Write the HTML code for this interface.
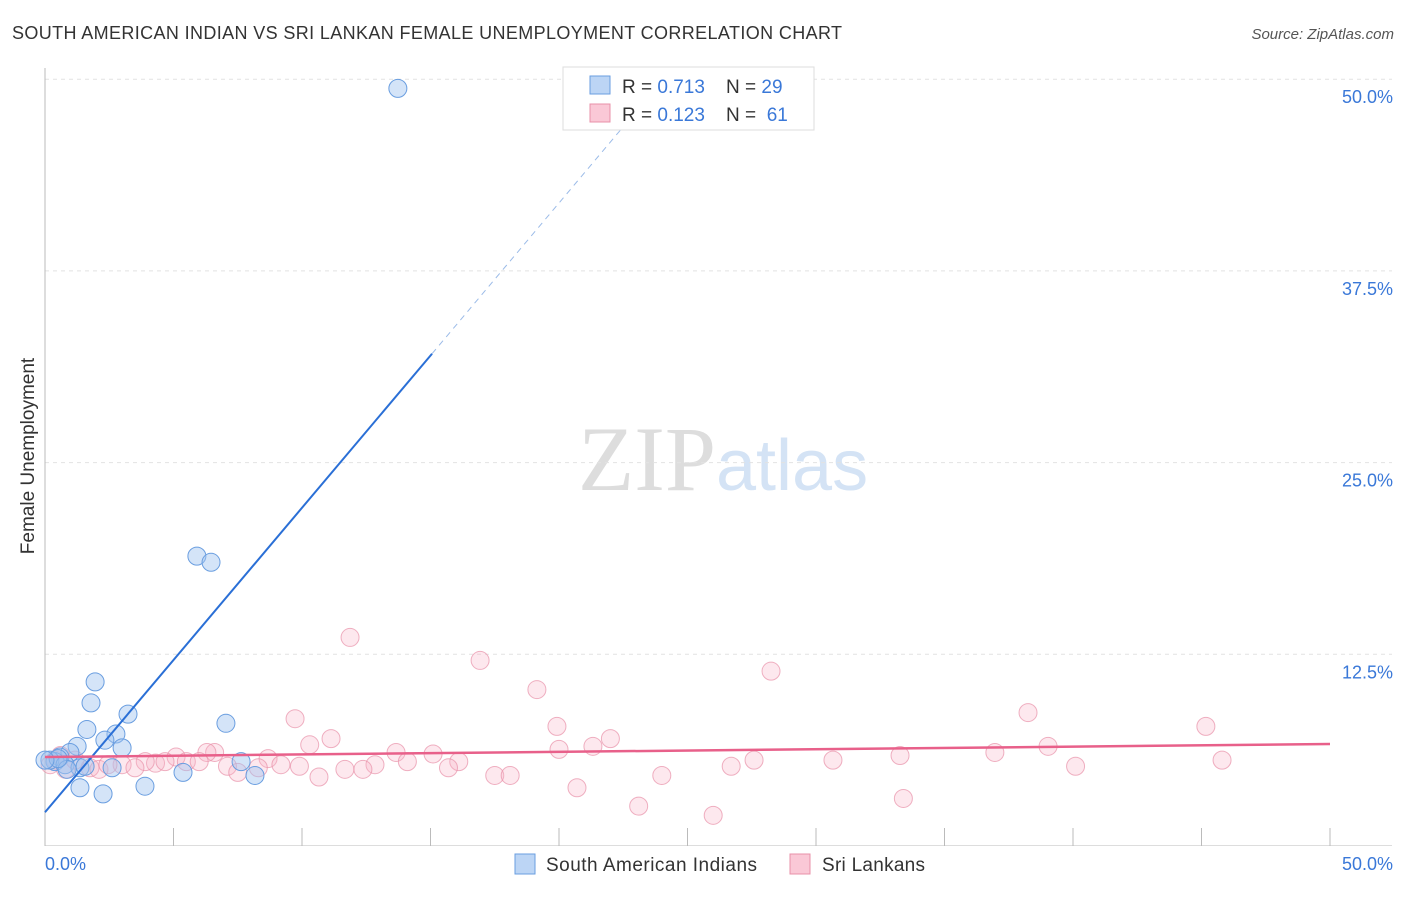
<!DOCTYPE html>
<html><head><meta charset="utf-8"><style>
body{margin:0;background:#fff;font-family:"Liberation Sans",sans-serif}
</style></head><body>
<svg width="1406" height="892" xmlns="http://www.w3.org/2000/svg">
<text x="12" y="39" font-size="18" fill="#333" textLength="830">SOUTH AMERICAN INDIAN VS SRI LANKAN FEMALE UNEMPLOYMENT CORRELATION CHART</text>
<text x="1394" y="39" font-size="15" fill="#555" font-style="italic" text-anchor="end">Source: ZipAtlas.com</text>
<text x="716" y="490" font-size="92" fill="#ddd" font-family="Liberation Serif,serif" text-anchor="end">ZIP</text>
<text x="716" y="490" font-size="72" fill="#d4e3f5">atlas</text>
<g id="grid"></g>
<g id="axes"></g>
<g id="marks"></g>
<text transform="translate(34,456) rotate(-90)" font-size="19" fill="#333" text-anchor="middle">Female Unemployment</text>
<g>
<rect x="563" y="67" width="251" height="63" fill="#fff" stroke="#ddd"/>
<rect x="590" y="76" width="20" height="18" fill="#bcd5f5" stroke="#6a9ee0"/>
<text x="622" y="93" font-size="19" fill="#333" xml:space="preserve">R = <tspan fill="#3a78d8">0.713</tspan>    N = <tspan fill="#3a78d8">29</tspan></text>
<rect x="590" y="104" width="20" height="18" fill="#fac8d6" stroke="#e890a8"/>
<text x="622" y="121" font-size="19" fill="#333" xml:space="preserve">R = <tspan fill="#3a78d8">0.123</tspan>    N =  <tspan fill="#3a78d8">61</tspan></text>
</g>
<g>
<rect x="515" y="854" width="20" height="20" fill="#bcd5f5" stroke="#6a9ee0"/>
<text x="546" y="871" font-size="19" fill="#333" textLength="211">South American Indians</text>
<rect x="790" y="854" width="20" height="20" fill="#fac8d6" stroke="#e890a8"/>
<text x="822" y="871" font-size="19" fill="#333" textLength="103">Sri Lankans</text>
</g>
</svg>
<script>
const yTicks=[12.5,25,37.5,50];
const yTickLabels=["12.5%","25.0%","37.5%","50.0%"];
const xTickLabels=["0.0%","50.0%"];
const blueX=[13.73,5.91,6.46,1.95,1.79,3.23,7.04,1.63,2.76,2.33,1.25,3.0,0.97,0.58,0.39,0.19,0.78,1.36,2.61,5.37,7.63,8.17,3.89,1.36,2.26,0.86,0.51,1.56,0.0];
const blueY=[49.4,18.9,18.5,10.7,9.33,8.6,8.0,7.6,7.3,6.9,6.5,6.4,6.1,5.8,5.5,5.6,5.3,5.1,5.1,4.8,5.5,4.6,3.9,3.8,3.4,5.0,5.7,5.2,5.6];
const pinkX=[11.87,16.93,19.14,28.25,38.25,45.17,9.73,19.92,22.0,11.13,10.3,39.03,21.32,20.0,13.66,15.1,36.96,33.27,30.66,27.59,45.8,16.1,14.1,8.68,9.18,6.6,6.3,5.1,5.5,6.0,4.3,3.9,4.67,3.0,3.5,7.1,7.5,8.3,9.9,12.84,11.67,12.37,15.7,40.1,26.7,17.5,18.1,10.66,24.0,20.7,23.1,26.0,33.4,0.4,0.2,0.8,1.75,2.1,2.45,0.6,1.17];
const pinkY=[13.6,12.1,10.2,11.4,8.7,7.8,8.3,7.8,7.0,7.0,6.6,6.5,6.5,6.3,6.1,6.0,6.1,5.9,5.6,5.6,5.6,5.5,5.5,5.7,5.3,6.1,6.1,5.8,5.5,5.5,5.4,5.5,5.5,5.3,5.1,5.2,4.8,5.1,5.2,5.3,5.0,5.0,5.1,5.2,5.2,4.6,4.6,4.5,4.6,3.8,2.6,2.0,3.1,5.6,5.3,5.0,5.1,5.0,5.3,5.9,5.6];
const blueLine=[0,2.2,15.06,32.1,22.5,46.9];
const pinkLine=[0,5.8,50,6.65];
const NS="http://www.w3.org/2000/svg";
const sx=v=>45+v/50*1285, sy=v=>846-v/12.5*191.7;
function mk(tag,attrs,parent){const e=document.createElementNS(NS,tag);for(const k in attrs)e.setAttribute(k,attrs[k]);parent.appendChild(e);return e;}
const grid=document.getElementById('grid'),axes=document.getElementById('axes'),marks=document.getElementById('marks');
yTicks.forEach((t,i)=>{
 const l=mk('line',{x1:45,x2:1392,y1:sy(t),y2:sy(t),stroke:'#e2e2e2','stroke-dasharray':'4,4'},grid);
 
 
 const tx=mk('text',{x:1393,y:sy(t)+24,'font-size':18,fill:'#3a78d8','text-anchor':'end'},axes);
 tx.textContent=yTickLabels[i];
 
 
});
const ax=mk('line',{x1:45,x2:45,y1:68,y2:846,stroke:'#bbb'},axes);


const bx=mk('line',{x1:45,x2:1392,y1:845.5,y2:845.5,stroke:'#ddd'},axes);


for(let i=0;i<=10;i++){const l=mk('line',{x1:sx(i*5),x2:sx(i*5),y1:828,y2:846,stroke:'#bbb'},axes);
 
 }
[[0,45,'start'],[50,1393,'end']].forEach((d,i)=>{const t=mk('text',{x:d[1],y:870,'font-size':18,fill:'#3a78d8','text-anchor':d[2]},axes);t.textContent=xTickLabels[i];
 
 });
pinkX.forEach((x,i)=>{const c=mk('circle',{cx:sx(x),cy:sy(pinkY[i]),r:9,fill:'rgba(248,180,200,0.3)',stroke:'#e890a8','stroke-opacity':0.7},marks);
 
 });
blueX.forEach((x,i)=>{const c=mk('circle',{cx:sx(x),cy:sy(blueY[i]),r:9,fill:'rgba(160,196,240,0.45)',stroke:'#6a9ee0'},marks);
 
 });
const bl=mk('line',{x1:sx(blueLine[0]),y1:sy(blueLine[1]),x2:sx(blueLine[2]),y2:sy(blueLine[3]),stroke:'#2a6fd6','stroke-width':2},marks);


const bd=mk('line',{x1:sx(blueLine[2]),y1:sy(blueLine[3]),x2:sx(blueLine[4]),y2:sy(blueLine[5]),stroke:'#9bbbe8','stroke-width':1,'stroke-dasharray':'6,5'},marks);


const pl=mk('line',{x1:sx(pinkLine[0]),y1:sy(pinkLine[1]),x2:sx(pinkLine[2]),y2:sy(pinkLine[3]),stroke:'#e8608a','stroke-width':2.5},marks);


</script>
</body></html>
